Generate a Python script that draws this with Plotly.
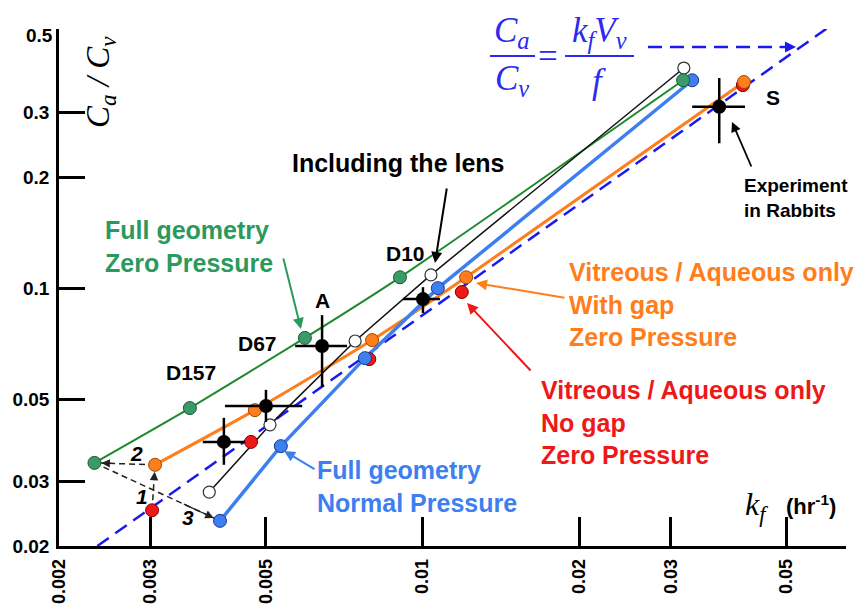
import math
import plotly.graph_objects as go

# ---------------- data ----------------
x_ticks = [0.002, 0.003, 0.005, 0.01, 0.02, 0.03, 0.05]
x_ticklabels = ["0.002", "0.003", "0.005", "0.01", "0.02", "0.03", "0.05"]
y_ticks = [0.02, 0.03, 0.05, 0.1, 0.2, 0.3]
y_ticklabels = ["0.02", "0.03", "0.05", "0.1", "0.2", "0.3"]

green_kf = [0.00234, 0.00357, 0.00594, 0.00905, 0.0317]
green_r = [0.0336, 0.0473, 0.0733, 0.107, 0.366]
orange_kf = [0.00306, 0.00476, 0.0080, 0.01213, 0.0415]
orange_r = [0.0332, 0.0467, 0.0723, 0.107, 0.362]
red_kf = [0.00302, 0.00468, 0.0079, 0.0119, 0.0413]
red_r = [0.0250, 0.0383, 0.0642, 0.0976, 0.355]
blue_kf = [0.00408, 0.00534, 0.00775, 0.0107, 0.0330]
blue_r = [0.0234, 0.0373, 0.0646, 0.100, 0.366]
lens_kf = [0.00389, 0.00509, 0.00742, 0.01038, 0.0318]
lens_r = [0.0280, 0.0426, 0.0719, 0.1086, 0.395]

exp_kf = [0.00415, 0.0050, 0.00641, 0.01002, 0.0372]
exp_kf_lo = [0.00378, 0.00417, 0.00569, 0.00917, 0.0330]
exp_kf_hi = [0.00456, 0.00587, 0.00716, 0.0108, 0.0417]
exp_r = [0.0383, 0.0479, 0.0697, 0.0934, 0.310]
exp_r_lo = [0.0332, 0.0434, 0.054, 0.0856, 0.247]
exp_r_hi = [0.0445, 0.053, 0.0845, 0.1006, 0.371]

model_kf = [0.00237, 0.0624]
model_r = [0.0200, 0.527]

# ---------------- styling ----------------
GREEN_LINE = "#1c8a2c"
GREEN = "#3a9a68"
GREEN_TXT = "#2a9a5c"
ORANGE = "#ff7d1a"
RED = "#ee1818"
BLUE = "#3d7ff0"
MODEL_BLUE = "#1a1aee"
EQ_BLUE = "#2a2af0"
SANS = "Liberation Sans, Arial, sans-serif"
SERIF = "Liberation Serif, Times New Roman, serif"

L, R, T, B = 59, 846, 29, 546
W, H = 862, 607


def PX(x):
    return (x - L) / (R - L)


def PY(y):
    return (B - y) / (B - T)


fig = go.Figure()

# model line
fig.add_trace(go.Scatter(x=model_kf, y=model_r, mode="lines",
                         line=dict(color=MODEL_BLUE, width=2.5, dash="14px,8px"),
                         hoverinfo="skip"))

# dashed black arrows between the first points
arrow_pairs = [
    (red_kf[0], red_r[0], orange_kf[0], orange_r[0]),
    (orange_kf[0], orange_r[0], green_kf[0], green_r[0]),
    (green_kf[0], green_r[0], blue_kf[0], blue_r[0]),
]
for (x0, y0, x1, y1) in arrow_pairs:
    fig.add_trace(go.Scatter(x=[x0, x1], y=[y0, y1], mode="lines",
                             line=dict(color="#222222", width=1.5, dash="6px,4px"),
                             hoverinfo="skip"))

# series lines
fig.add_trace(go.Scatter(x=green_kf, y=green_r, mode="lines",
                         line=dict(color=GREEN_LINE, width=2, shape="spline", smoothing=0.6)))
fig.add_trace(go.Scatter(x=orange_kf, y=orange_r, mode="lines",
                         line=dict(color=ORANGE, width=3, shape="spline", smoothing=0.6)))
fig.add_trace(go.Scatter(x=lens_kf, y=lens_r, mode="lines",
                         line=dict(color="#111111", width=1.5)))
fig.add_trace(go.Scatter(x=blue_kf, y=blue_r, mode="lines",
                         line=dict(color=BLUE, width=3.5)))

# markers
fig.add_trace(go.Scatter(x=red_kf, y=red_r, mode="markers",
                         marker=dict(size=13, color=RED, line=dict(color="#8a0000", width=1))))
fig.add_trace(go.Scatter(x=orange_kf, y=orange_r, mode="markers",
                         marker=dict(size=13, color=ORANGE, line=dict(color="#9a4a00", width=1))))
fig.add_trace(go.Scatter(x=blue_kf, y=blue_r, mode="markers",
                         marker=dict(size=13, color=BLUE, line=dict(color="#1a3a8a", width=1))))
fig.add_trace(go.Scatter(x=lens_kf, y=lens_r, mode="markers",
                         marker=dict(size=12, color="white", line=dict(color="#333333", width=1.2))))
fig.add_trace(go.Scatter(x=green_kf, y=green_r, mode="markers",
                         marker=dict(size=13, color=GREEN, line=dict(color="#1a5a34", width=1))))

# experiments with error crosses
fig.add_trace(go.Scatter(
    x=exp_kf, y=exp_r, mode="markers",
    marker=dict(size=14, color="black"),
    error_x=dict(type="data", symmetric=False,
                 array=[h - v for h, v in zip(exp_kf_hi, exp_kf)],
                 arrayminus=[v - l for l, v in zip(exp_kf_lo, exp_kf)],
                 color="black", thickness=2.5, width=0),
    error_y=dict(type="data", symmetric=False,
                 array=[h - v for h, v in zip(exp_r_hi, exp_r)],
                 arrayminus=[v - l for l, v in zip(exp_r_lo, exp_r)],
                 color="black", thickness=2.5, width=0),
))

annotations = []


def text(x, y, s, size=25, color="black", xanchor="center", align="center",
         family=SANS, weight="bold", style="normal", angle=0):
    annotations.append(dict(
        x=PX(x), y=PY(y), xref="paper", yref="paper", text=s, showarrow=False,
        xanchor=xanchor, yanchor="middle", align=align, textangle=angle,
        font=dict(family=family, size=size, color=color, weight=weight, style=style)))


def arrow(tail, head, color="black", width=2):
    annotations.append(dict(
        x=PX(head[0]), y=PY(head[1]), xref="paper", yref="paper",
        ax=tail[0] - head[0], ay=tail[1] - head[1], axref="pixel", ayref="pixel",
        text="", showarrow=True, arrowhead=2, arrowsize=1.1, arrowwidth=width,
        arrowcolor=color))


# arrowheads of dashed data arrows
for (x0, y0, x1, y1) in arrow_pairs:
    lx0, ly0, lx1, ly1 = math.log10(x0), math.log10(y0), math.log10(x1), math.log10(y1)
    f = 0.3
    annotations.append(dict(
        x=lx1, y=ly1, xref="x", yref="y",
        ax=lx1 + f * (lx0 - lx1), ay=ly1 + f * (ly0 - ly1), axref="x", ayref="y",
        text="", showarrow=True, arrowhead=2, arrowsize=1.3, arrowwidth=1.3,
        arrowcolor="#222222", standoff=7))

# labels
text(103, 246, "Full geometry<br>Zero Pressure", color=GREEN_TXT, xanchor="left", align="left")
arrow((283, 257), (301, 329), color=GREEN_TXT)
text(398, 163, "Including the lens")
arrow((447, 187), (435, 263))
text(567, 304, "Vitreous / Aqueous only<br>With gap<br>Zero Pressure", color=ORANGE,
     xanchor="left", align="left")
arrow((566, 298), (476, 283), color=ORANGE)
text(539, 422, "Vitreous / Aqueous only<br>No gap<br>Zero Pressure", color=RED,
     xanchor="left", align="left")
arrow((532, 372), (467, 303), color=RED)
text(315, 486, "Full geometry<br>Normal Pressure", color=BLUE, xanchor="left", align="left")
arrow((316, 470), (284, 451), color=BLUE)
text(191, 372, "D157", size=21)
text(257, 343, "D67", size=21)
text(322, 300, "A", size=21)
text(405, 253, "D10", size=21)
text(773, 98, "S", size=21)
text(742, 198, "Experiment<br>in Rabbits", size=19, xanchor="left", align="left")
arrow((752, 168), (732, 122), width=1.8)
text(142, 496, "1", size=21, style="italic")
text(136, 453, "2", size=21, style="italic")
text(188, 517, "3", size=21, style="italic")

# y tick label at the top of the axis
text(55, 36, "0.5", size=19, xanchor="right")

# axis titles
text(101, 82, "C<sub>a</sub> / C<sub>v</sub>", size=33, family=SERIF, weight="normal",
     style="italic", angle=-90)
text(756, 506, "k<sub>f</sub>", size=32, family=SERIF, weight="normal", style="italic")
text(784, 505, "(hr<sup>-1</sup>)", size=22, xanchor="left")

# equation
text(512, 32, "C<sub>a</sub>", size=35, family=SERIF, weight="normal", style="italic", color=EQ_BLUE)
text(512, 80, "C<sub>v</sub>", size=35, family=SERIF, weight="normal", style="italic", color=EQ_BLUE)
text(548, 56, "=", size=35, family=SERIF, weight="normal", color=EQ_BLUE)
text(599, 32, "k<sub>f</sub>V<sub>v</sub>", size=35, family=SERIF, weight="normal", style="italic",
     color=EQ_BLUE)
text(599, 82, "f", size=35, family=SERIF, weight="normal", style="italic", color=EQ_BLUE)
arrow((778, 47), (796, 47), color=MODEL_BLUE, width=2)

shapes = [
    dict(type="line", xref="paper", yref="paper", x0=PX(490), x1=PX(535), y0=PY(56), y1=PY(56),
         line=dict(color=EQ_BLUE, width=2)),
    dict(type="line", xref="paper", yref="paper", x0=PX(565), x1=PX(634), y0=PY(56), y1=PY(56),
         line=dict(color=EQ_BLUE, width=2)),
    dict(type="line", xref="paper", yref="paper", x0=PX(648), x1=PX(786), y0=PY(47), y1=PY(47),
         line=dict(color=MODEL_BLUE, width=2.5, dash="14px,8px")),
]

fig.update_layout(
    width=W, height=H,
    margin=dict(l=L, r=W - R, t=T, b=H - B, pad=0),
    paper_bgcolor="white", plot_bgcolor="white",
    showlegend=False,
    annotations=annotations,
    shapes=shapes,
    xaxis=dict(type="log", range=[math.log10(0.002), math.log10(0.0652)],
               tickvals=x_ticks, ticktext=x_ticklabels, tickangle=-90,
               ticks="inside", ticklen=29, tickwidth=2.5, tickcolor="black",
               showline=True, linewidth=2.5, linecolor="black", mirror=False,
               showgrid=False, zeroline=False, automargin=False, ticklabelstandoff=3,
               tickfont=dict(family=SANS, size=18, color="black", weight="bold")),
    yaxis=dict(type="log", range=[math.log10(0.02), math.log10(0.504)],
               tickvals=y_ticks, ticktext=y_ticklabels,
               ticks="inside", ticklen=26, tickwidth=2.5, tickcolor="black",
               showline=True, linewidth=2.5, linecolor="black", mirror=False,
               showgrid=False, zeroline=False, automargin=False, ticklabelstandoff=3,
               tickfont=dict(family=SANS, size=19, color="black", weight="bold")),
)

fig.write_html("out.html")
